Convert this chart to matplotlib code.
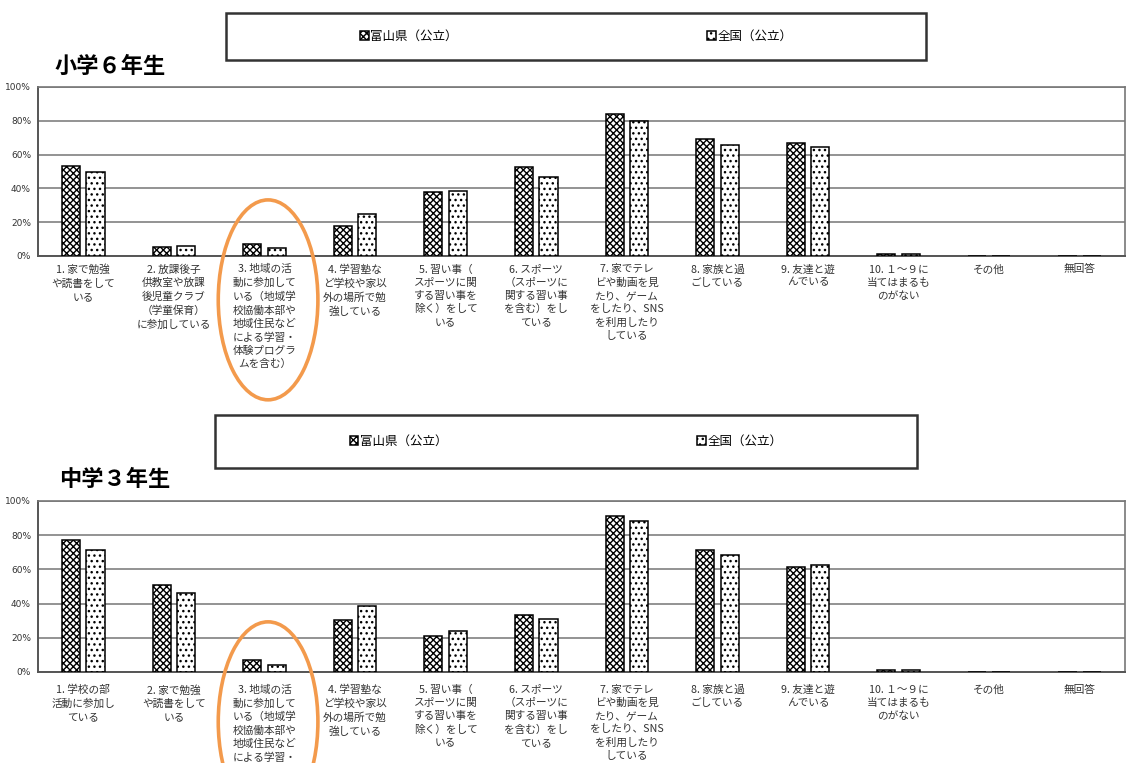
import numpy as np
import matplotlib
matplotlib.use("Agg")
import matplotlib.pyplot as plt
import matplotlib.transforms as mtransforms
from matplotlib.patches import Rectangle, Ellipse

plt.rcParams['font.family'] = ['Noto Sans CJK JP', 'DejaVu Sans']
plt.rcParams['hatch.linewidth'] = 1.0

# data
series_names = ['富山県（公立）', '全国（公立）']

elem_labels = [
    '1. 家で勉強\nや読書をして\nいる',
    '2. 放課後子\n供教室や放課\n後児童クラブ\n（学童保育）\nに参加している',
    '3. 地域の活\n動に参加して\nいる（地域学\n校協働本部や\n地域住民など\nによる学習・\n体験プログラ\nムを含む）',
    '4. 学習塾な\nど学校や家以\n外の場所で勉\n強している',
    '5. 習い事（\nスポーツに関\nする習い事を\n除く）をして\nいる',
    '6. スポーツ\n（スポーツに\n関する習い事\nを含む）をし\nている',
    '7. 家でテレ\nビや動画を見\nたり、ゲーム\nをしたり、SNS\nを利用したり\nしている',
    '8. 家族と過\nごしている',
    '9. 友達と遊\nんでいる',
    '10. １～９に\n当てはまるも\nのがない',
    'その他',
    '無回答',
]
elem_toyama = [53.5, 5.1, 7.0, 17.6, 37.6, 52.9, 83.9, 69.0, 66.9, 1.2, 0.0, 0.0]
elem_zenkoku = [49.4, 5.9, 4.7, 24.7, 38.4, 47.0, 79.6, 65.7, 64.5, 0.9, 0.0, 0.0]

jh_labels = [
    '1. 学校の部\n活動に参加し\nている',
    '2. 家で勉強\nや読書をして\nいる',
    '3. 地域の活\n動に参加して\nいる（地域学\n校協働本部や\n地域住民など\nによる学習・\n体験プログラ\nムを含む）',
    '4. 学習塾な\nど学校や家以\n外の場所で勉\n強している',
    '5. 習い事（\nスポーツに関\nする習い事を\n除く）をして\nいる',
    '6. スポーツ\n（スポーツに\n関する習い事\nを含む）をし\nている',
    '7. 家でテレ\nビや動画を見\nたり、ゲーム\nをしたり、SNS\nを利用したり\nしている',
    '8. 家族と過\nごしている',
    '9. 友達と遊\nんでいる',
    '10. １～９に\n当てはまるも\nのがない',
    'その他',
    '無回答',
]
jh_toyama = [77.0, 51.0, 6.9, 30.3, 21.1, 33.6, 91.0, 71.5, 61.3, 1.0, 0.2, 0.1]
jh_zenkoku = [71.1, 46.3, 4.1, 38.7, 23.8, 30.7, 88.5, 68.2, 62.5, 1.2, 0.2, 0.1]

yticks = [0, 20, 40, 60, 80, 100]
ytick_labels = ['0%', '20%', '40%', '60%', '80%', '100%']

fig = plt.figure(figsize=(11.34, 7.63), dpi=100)


def draw_panel(rect, labels, toyama, zenkoku, title, title_pos, box, circle_y, pad):
    ax = fig.add_axes(rect)
    x = np.arange(len(labels))
    b1 = ax.bar(x - 0.135, toyama, width=0.2, facecolor='white', edgecolor='black',
                hatch='xxxxx', linewidth=1.1, zorder=3, label=series_names[0])
    b2 = ax.bar(x + 0.135, zenkoku, width=0.2, facecolor='white', edgecolor='black',
                hatch='...', linewidth=1.1, zorder=3, label=series_names[1])
    ax.set_xlim(-0.5, len(labels) - 0.5)
    ax.set_ylim(0, 100)
    ax.set_yticks(yticks, ytick_labels, fontsize=6.5, color='#333333',
                  family=['Liberation Sans Narrow', 'DejaVu Sans'])
    ax.set_xticks(x, labels, fontsize=7.7, color='#333333', linespacing=1.4, va='top')
    ax.tick_params(axis='y', length=0, pad=5)
    ax.tick_params(axis='x', length=0, pad=pad)
    ax.yaxis.grid(True, color='#8a8a8a', linewidth=1.3)
    ax.set_axisbelow(True)
    for s in ['left', 'bottom']:
        ax.spines[s].set_color('#555555')
        ax.spines[s].set_linewidth(1.4)
    for s in ['top', 'right']:
        ax.spines[s].set_color('#777777')
        ax.spines[s].set_linewidth(1.2)

    fig.text(title_pos[0], title_pos[1], title, fontsize=16, fontweight='bold',
             ha='left', va='center', color='black')

    # legend box
    fig.patches.append(Rectangle((box[0], box[1]), box[2], box[3], transform=fig.transFigure,
                                 fill=False, edgecolor='#333333', linewidth=1.8))
    fig.legend([b1, b2], series_names, loc='center', ncol=2, frameon=False,
               bbox_to_anchor=(box[0] + box[2] / 2, box[1] + box[3] / 2),
               bbox_transform=fig.transFigure, fontsize=9, handlelength=0.7,
               handleheight=0.7, handletextpad=0.1, columnspacing=20)

    # orange highlight around category 3
    trans = mtransforms.blended_transform_factory(ax.transData, fig.transFigure)
    ax.add_patch(Ellipse((2.04, circle_y), 1.1, 0.262, transform=trans, fill=False,
                         edgecolor='#f39a4c', linewidth=2.6, clip_on=False, zorder=5))
    return ax


draw_panel([0.0335, 0.6645, 0.9586, 0.2215], elem_labels, elem_toyama, elem_zenkoku,
           '小学６年生', (0.048, 0.913), (0.1993, 0.9214, 0.6173, 0.0616), 0.607, 6)
draw_panel([0.0335, 0.1193, 0.9586, 0.2241], jh_labels, jh_toyama, jh_zenkoku,
           '中学３年生', (0.052, 0.371), (0.1896, 0.3866, 0.619, 0.0695), 0.054, 9)

fig.savefig('out.png', dpi=100)
